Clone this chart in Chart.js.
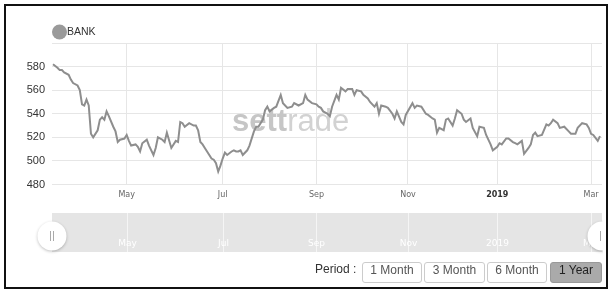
<!DOCTYPE html>
<html>
<head>
<meta charset="utf-8">
<title>BANK</title>
<script src="https://cdn.jsdelivr.net/npm/chart.js@4.4.1/dist/chart.umd.min.js"></script>
<style>
  html, body { margin: 0; padding: 0; background: #fff; }
  #wrap { position: relative; width: 611px; height: 289px; overflow: hidden; }
  #frame {
    position: absolute; left: 4px; top: 4px; width: 604px; height: 285px;
    border: 2px solid #111; box-sizing: border-box; pointer-events: none;
  }
  .period {
    position: absolute; top: 262px; height: 21px; line-height: 21px;
    font: 12px "Liberation Sans", Arial, sans-serif; color: #333;
  }
  .btn {
    position: absolute; top: 262px; height: 21px; line-height: 19px;
    box-sizing: border-box; border: 1px solid #ccc; border-radius: 3px;
    background: #fff; text-align: center;
    font: 12px "Liberation Sans", Arial, sans-serif; color: #555;
  }
  .btn.on { background: #aaa; border-color: #999; color: #222; }
</style>
</head>
<body>
<div id="wrap">
  <canvas id="bankChart" width="611" height="289"></canvas>
  <div id="frame"></div>
  <span class="period" style="left:315px">Period :</span>
  <span class="btn" style="left:362px;width:60px">1 Month</span>
  <span class="btn" style="left:424px;width:61px">3 Month</span>
  <span class="btn" style="left:487px;width:60px">6 Month</span>
  <span class="btn on" style="left:550px;width:52px">1 Year</span>
</div>
<script>
// ====================================
// BANK index - 1 year (ordinal axis)
// ====================================

const seriesName = 'BANK';

// trading session number (0 = mid March 2018)
const sessions = [
  0, 2, 3, 4, 5, 7, 8, 9, 11, 12, 13, 14, 15, 16, 17, 18, 20, 21, 22, 23,
  24, 25, 27, 28, 29, 30, 32, 33, 34, 35, 37, 38, 39, 40, 42, 43, 45, 46, 47, 49,
  50, 51, 53, 55, 56, 57, 58, 59, 61, 63, 64, 65, 66, 67, 68, 69, 71, 72, 73, 74,
  75, 76, 77, 78, 80, 81, 82, 83, 84, 85, 87, 88, 90, 91, 92, 94, 95, 96, 97, 99,
  100, 102, 103, 105, 107, 108, 110, 112, 113, 114, 116, 118, 119, 120, 121, 123, 124, 125, 127, 128,
  129, 131, 132, 134, 135, 136, 138, 139, 141, 142, 144, 145, 146, 147, 149, 150, 152, 153, 154, 156,
  157, 158, 161, 162, 163, 165, 167, 168, 170, 171, 172, 173, 175, 176, 177, 179, 180, 181, 183, 184,
  185, 187, 188, 190, 191, 193, 194, 196, 197, 199, 200, 201, 203, 204, 206, 207, 208, 210, 211, 213,
  214, 215, 216, 217, 219, 221, 222, 223, 224, 226, 227, 229, 231, 232, 234, 235, 237, 239, 240, 241,
  242, 244, 245
];

const closes = [
  582, 579, 577, 577, 575, 573, 569, 566, 564, 560, 548, 547, 552, 547, 523, 520, 526, 535, 537, 535,
  542, 538, 529, 525, 516, 518, 519, 522, 517, 513, 514, 512, 508, 515, 518, 513, 505, 511, 520, 518,
  516, 524, 511, 517, 516, 533, 532, 529, 532, 530, 530, 526, 516, 514, 511, 508, 502, 501, 498, 491,
  496, 502, 507, 505, 508, 509, 508, 508, 509, 505, 509, 513, 525, 529, 529, 535, 543, 546, 542, 545,
  546, 556, 549, 545, 546, 549, 547, 549, 556, 552, 549, 548, 546, 545, 542, 540, 538, 546, 556, 552,
  562, 559, 561, 561, 556, 560, 559, 556, 553, 550, 546, 549, 540, 547, 546, 545, 540, 536, 542, 533,
  531, 539, 549, 545, 547, 546, 540, 539, 536, 535, 524, 528, 526, 535, 536, 530, 536, 543, 540, 535,
  533, 536, 528, 521, 529, 528, 522, 514, 509, 512, 515, 514, 519, 519, 516, 515, 514, 517, 506, 511,
  514, 522, 524, 521, 522, 531, 530, 532, 535, 532, 528, 529, 525, 523, 523, 528, 532, 531, 528, 523,
  522, 517, 521
];

// first session of each labelled month
const monthSessions = [33, 76, 118, 159, 199, 241];
const monthLabels = ['May', 'Jul', 'Sep', 'Nov', '2019', 'Mar'];

const yTicks = [480, 500, 520, 540, 560, 580, 600];

const LINE_COLOR = '#8e8e8e';
const GRID_COLOR = '#e6e6e6';

/**
 * Legend, watermark and navigator drawn straight on the canvas
 */
const sceneryPlugin = {
  id: 'scenery',

  beforeDatasetsDraw(chart) {
    const ctx = chart.ctx;
    ctx.save();
    ctx.textBaseline = 'alphabetic';
    ctx.font = 'bold 31px "Liberation Sans", Arial, sans-serif';
    ctx.fillStyle = '#c6c6c6';
    ctx.fillText('sett', 232, 131);
    const w = ctx.measureText('sett').width;
    ctx.font = '31px "Liberation Sans", Arial, sans-serif';
    ctx.fillStyle = '#d2d2d2';
    ctx.fillText('rade', 232 + w, 131);
    ctx.restore();
  },

  afterDraw(chart) {
    const ctx = chart.ctx;
    const xs = chart.scales.x;
    const area = chart.chartArea;

    // legend
    ctx.save();
    ctx.fillStyle = '#9a9a9a';
    ctx.beginPath();
    ctx.arc(59.5, 32, 7.5, 0, Math.PI * 2);
    ctx.fill();
    ctx.fillStyle = '#333';
    ctx.font = '10.5px "Liberation Sans", Arial, sans-serif';
    ctx.textBaseline = 'middle';
    ctx.fillText(chart.data.datasets[0].label, 67, 32.5);
    ctx.restore();

    // navigator band
    const top = 213, bottom = 252;
    ctx.save();
    ctx.fillStyle = '#e5e5e5';
    ctx.fillRect(area.left, top, area.right - area.left, bottom - top);

    ctx.strokeStyle = 'rgba(255,255,255,0.6)';
    ctx.lineWidth = 1;
    ctx.fillStyle = '#fff';
    ctx.font = '9px "DejaVu Sans", sans-serif';
    ctx.textAlign = 'center';
    ctx.textBaseline = 'middle';
    monthSessions.forEach((s, i) => {
      const px = Math.round(xs.getPixelForValue(s)) + 0.5;
      ctx.beginPath();
      ctx.moveTo(px, top);
      ctx.lineTo(px, bottom);
      ctx.stroke();
      ctx.fillText(monthLabels[i], px, 244);
    });

    // handles
    const handle = (cx) => {
      ctx.save();
      ctx.shadowColor = 'rgba(0,0,0,0.25)';
      ctx.shadowBlur = 3;
      ctx.shadowOffsetY = 1;
      ctx.fillStyle = '#fff';
      ctx.beginPath();
      ctx.arc(cx, 236, 14.5, 0, Math.PI * 2);
      ctx.fill();
      ctx.restore();
      ctx.strokeStyle = '#aaa';
      ctx.lineWidth = 1;
      ctx.beginPath();
      ctx.moveTo(cx - 1.5, 231); ctx.lineTo(cx - 1.5, 241);
      ctx.moveTo(cx + 1.5, 231); ctx.lineTo(cx + 1.5, 241);
      ctx.stroke();
    };
    handle(area.left);
    ctx.save();
    ctx.beginPath();
    ctx.rect(0, 0, area.right + 1, chart.height);
    ctx.clip();
    handle(area.right);
    ctx.restore();
    ctx.restore();
  }
};

const chart = new Chart(document.getElementById('bankChart').getContext('2d'), {
  type: 'line',
  data: {
    datasets: [{
      label: seriesName,
      data: sessions.map((s, i) => ({ x: s, y: closes[i] })),
      borderColor: LINE_COLOR,
      borderWidth: 2,
      pointRadius: 0,
      tension: 0,
      fill: false
    }]
  },
  options: {
    responsive: false,
    animation: false,
    layout: {
      padding: { left: 0, right: 9, top: 43, bottom: 84.5 }
    },
    plugins: {
      legend: { display: false },
      tooltip: { enabled: false }
    },
    scales: {
      x: {
        type: 'linear',
        min: -0.45,
        max: 245.9,
        afterFit(scale) { scale.height = 20; },
        afterBuildTicks(scale) {
          scale.ticks = monthSessions.map(v => ({ value: v }));
        },
        grid: { color: GRID_COLOR, drawTicks: false },
        border: { display: false },
        ticks: {
          autoSkip: false,
          maxRotation: 0,
          padding: 6,
          color: (c) => (c.tick && c.tick.label === '2019') ? '#333' : '#666',
          font: (c) => ({
            family: '"DejaVu Sans", sans-serif',
            size: 8,
            weight: (c.tick && c.tick.label === '2019') ? 'bold' : 'normal'
          }),
          callback: (v) => monthLabels[monthSessions.indexOf(v)]
        }
      },
      y: {
        min: 480,
        max: 600,
        afterFit(scale) { scale.width = 52; },
        afterBuildTicks(scale) {
          scale.ticks = yTicks.map(v => ({ value: v }));
        },
        grid: { color: GRID_COLOR, drawTicks: false },
        border: { display: false },
        ticks: {
          padding: 7,
          color: '#333',
          font: { family: '"Liberation Sans", Arial, sans-serif', size: 11 },
          callback: (v) => (v === 600 ? '' : v)
        }
      }
    }
  },
  plugins: [sceneryPlugin]
});
</script>
</body>
</html>
